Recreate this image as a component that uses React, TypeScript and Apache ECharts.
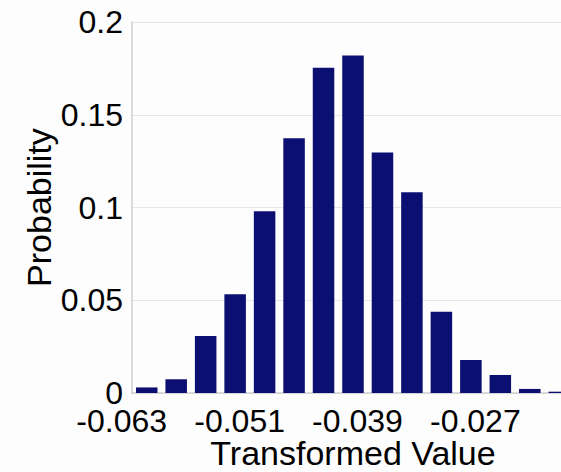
import React, { useEffect, useRef } from "react";
import * as echarts from "echarts";

const binLabels = [
  "-0.063", "-0.060", "-0.057", "-0.054", "-0.051", "-0.048", "-0.045", "-0.042",
  "-0.039", "-0.036", "-0.033", "-0.030", "-0.027", "-0.024", "-0.021",
];
const probabilities = [
  0.003, 0.0074, 0.0307, 0.0532, 0.098, 0.1373, 0.1754, 0.182,
  0.1296, 0.1082, 0.0438, 0.0178, 0.0097, 0.0022, 0.0007,
];
const yTicks = { min: 0, max: 0.2, interval: 0.05 };

const FONT = "'Liberation Sans', Arial, Helvetica, sans-serif";

export default function App() {
  const ref = useRef<HTMLDivElement>(null);
  useEffect(() => {
    if (!ref.current) return;
    const chart = echarts.init(ref.current, undefined, { renderer: "svg" });
    chart.setOption({
      animation: false,
      backgroundColor: "#fdfdfd",
      grid: {
        left: 132,
        top: 22,
        right: 6,
        bottom: 79,
        containLabel: false,
        outerBoundsMode: "none",
      },
      xAxis: {
        type: "category",
        data: binLabels,
        name: "Transformed Value",
        nameLocation: "middle",
        nameGap: 43,
        nameMoveOverlap: false,
        nameTextStyle: { fontFamily: FONT, fontSize: 34, lineHeight: 34, color: "#000" },
        axisTick: { show: false },
        axisLine: { show: true, lineStyle: { color: "#cfcfcf", width: 1.5 } },
        axisLabel: {
          interval: 3,
          fontFamily: FONT,
          fontSize: 32,
          color: "#000",
          margin: 12,
          padding: [0, 50, 0, 0],
        },
      },
      yAxis: {
        type: "value",
        min: yTicks.min,
        max: yTicks.max,
        interval: yTicks.interval,
        name: "Probability",
        nameLocation: "middle",
        nameRotate: 90,
        nameGap: 76,
        nameMoveOverlap: false,
        nameTextStyle: { fontFamily: FONT, fontSize: 34, color: "#000" },
        axisLine: { show: true, lineStyle: { color: "#cfcfcf", width: 1.5 } },
        axisTick: { show: false },
        axisLabel: { fontFamily: FONT, fontSize: 32, color: "#000", margin: 9 },
        splitLine: { show: true, lineStyle: { color: "#e6e6e6", width: 1 } },
      },
      series: [
        {
          type: "bar",
          data: probabilities,
          barCategoryGap: "27%",
          itemStyle: { color: "#0c0f72" },
        },
      ],
    });
    return () => chart.dispose();
  }, []);
  return (
    <div
      style={{
        position: "fixed",
        left: 0,
        top: 0,
        width: 561,
        height: 472,
        overflow: "hidden",
        background: "#fdfdfd",
      }}
    >
      <div ref={ref} style={{ width: 580, height: 472 }} />
    </div>
  );
}
